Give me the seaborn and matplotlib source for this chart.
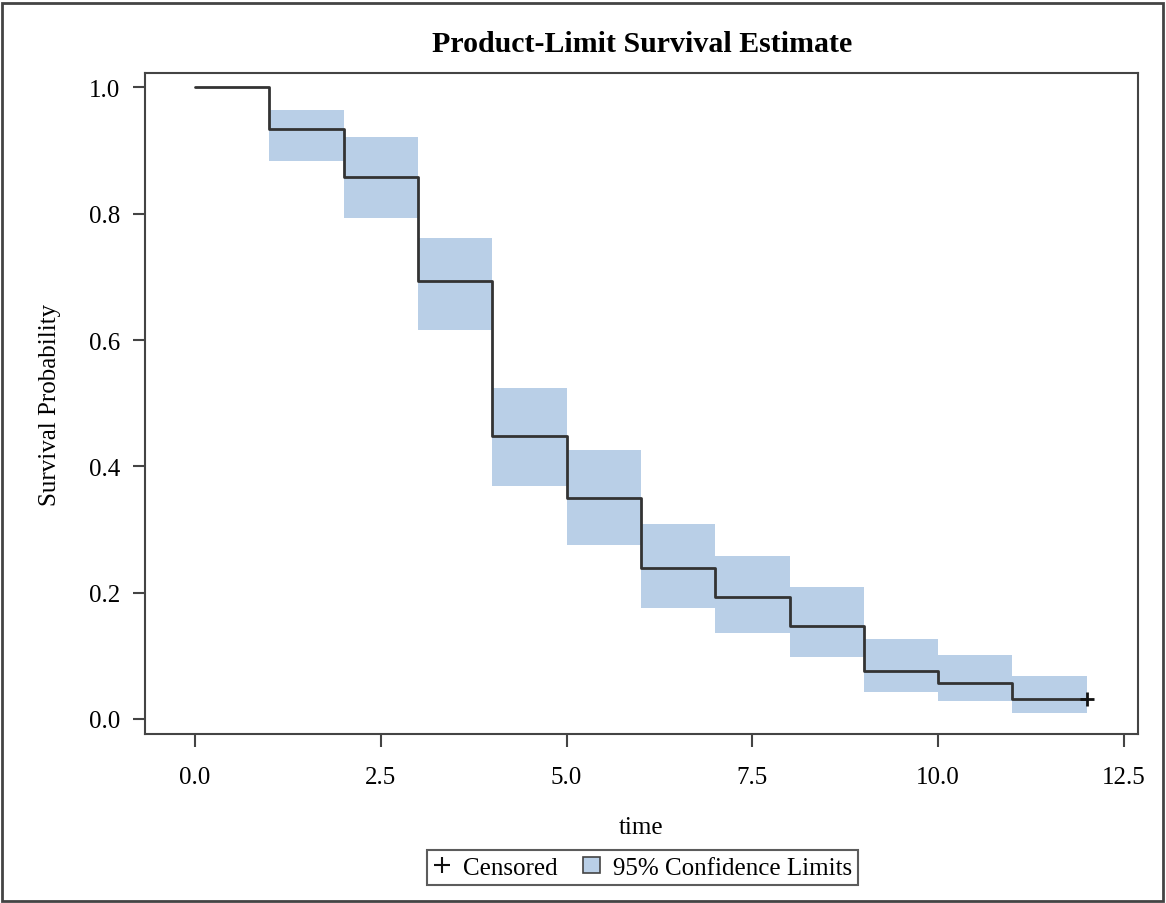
import numpy as np
import pandas as pd
import seaborn as sns
import matplotlib.pyplot as plt
from matplotlib.lines import Line2D
from matplotlib.patches import Patch, Rectangle

# Kaplan-Meier estimate
time = [0, 1, 2, 3, 4, 5, 6, 7, 8, 9, 10, 11, 12]
surv = [1.0, 0.935, 0.8575, 0.6938, 0.4475, 0.3494, 0.2386, 0.1927, 0.1477,
        0.0755, 0.057, 0.0312, 0.0312]
ci_upper = [0.9645, 0.9222, 0.761, 0.524, 0.4258, 0.3087, 0.2585, 0.2085,
            0.1266, 0.1013, 0.0685, 0.0685]
ci_lower = [0.8838, 0.7926, 0.6163, 0.3684, 0.2759, 0.1752, 0.1357, 0.0977,
            0.0423, 0.028, 0.0095, 0.0095]
censor_time = [12]
censor_surv = [0.0312]

df = pd.DataFrame({'time': time, 'surv': surv})

sns.set_style('white')
plt.rcParams['font.family'] = ['Liberation Serif', 'DejaVu Serif']
plt.rcParams['text.color'] = 'black'
plt.rcParams['axes.labelcolor'] = 'black'
plt.rcParams['xtick.color'] = 'black'
plt.rcParams['ytick.color'] = 'black'

fig = plt.figure(figsize=(11.66, 9.04), dpi=100)
ax = fig.add_axes([0.1244, 0.187, 0.8516, 0.731])

ax.fill_between(time[1:], ci_lower, ci_upper, step='post',
                color='#b9cfe7', linewidth=0)
sns.lineplot(data=df, x='time', y='surv', drawstyle='steps-post',
             color='#333333', linewidth=2, ax=ax)
ax.plot(censor_time, censor_surv, marker='+', color='#111111',
        markersize=10, markeredgewidth=2, linestyle='none')

ax.set_xlim(-0.673, 12.69)
ax.set_ylim(-0.0237, 1.0227)
ax.set_xticks([0, 2.5, 5, 7.5, 10, 12.5])
ax.set_xticklabels(['0.0', '2.5', '5.0', '7.5', '10.0', '12.5'])
ax.set_yticks([0, 0.2, 0.4, 0.6, 0.8, 1.0])
ax.set_yticklabels(['0.0', '0.2', '0.4', '0.6', '0.8', '1.0'])
ax.tick_params(direction='out', length=9, width=1.5, color='#444444',
               labelsize=18, bottom=True, left=True)
ax.tick_params(axis='x', pad=14)
ax.tick_params(axis='y', pad=9)
for s in ax.spines.values():
    s.set_color('#444444')
    s.set_linewidth(1.5)

ax.set_xlabel('time', fontsize=18, labelpad=20)
ax.set_ylabel('Survival Probability', fontsize=18, labelpad=20)
fig.text(0.551, 0.951, 'Product-Limit Survival Estimate', ha='center',
         va='center', fontsize=21.5, fontweight='bold')

handles = [Line2D([], [], marker='+', color='#111111', linestyle='none',
                  markersize=11, markeredgewidth=1.5),
           Patch(facecolor='#b9cfe7', edgecolor='#444444', linewidth=1.2)]
leg = fig.legend(handles, ['Censored', '95% Confidence Limits'], ncol=2,
                 loc='center', bbox_to_anchor=(0.551, 0.039), fontsize=18,
                 frameon=True, fancybox=False, edgecolor='#333333',
                 handlelength=0.7, handleheight=0.6, handletextpad=0.5,
                 columnspacing=1.0, borderpad=0.25, borderaxespad=0)
leg.get_frame().set_linewidth(1.5)

fig.patches.append(Rectangle((0.002, 0.002), 0.995, 0.994, transform=fig.transFigure,
                             fill=False, edgecolor='#444444', linewidth=2))

fig.savefig('out.png', dpi=100)
